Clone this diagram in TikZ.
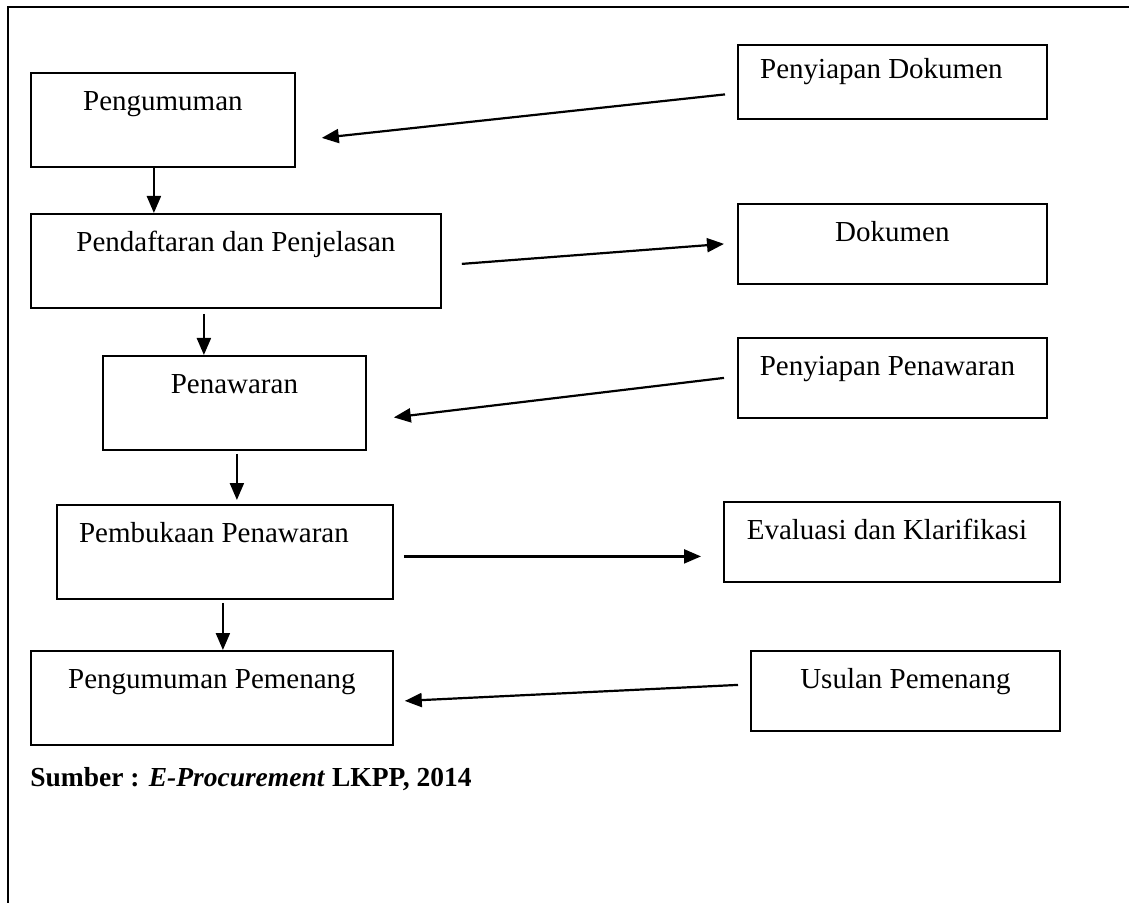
\documentclass[tikz,border=0pt]{standalone}
\usepackage{fontspec}
\setmainfont{Liberation Serif}
\usetikzlibrary{arrows.meta}
\begin{document}
\begin{tikzpicture}[
    x=0.5pt,
    y=-0.5pt,
    every node/.style={font=\fontsize{14.5}{17}\selectfont},
    lbox/.style={draw, line width=0.9pt, anchor=north west, inner sep=0pt, text height=19pt, text depth=28pt},
    rbox/.style={lbox, text depth=21pt},
    arr/.style={-{Triangle[length=8.5pt,width=7pt]}, line width=1.1pt}
]
    \useasboundingbox (0,0) rectangle (1129,903);
    \draw[line width=0.9pt] (8,903) -- (8,7) -- (1129,7);

    % main steps
    \node[lbox, minimum width=132pt] (peng) at (30,72) {Pengumuman};
    \node[lbox, minimum width=205pt] (pend) at (30,213) {Pendaftaran dan Penjelasan};
    \node[lbox, minimum width=131.5pt] (pen) at (102,355) {Penawaran};
    \node[lbox, minimum width=168pt] (pemb) at (56,504) {Pembukaan Penawaran\hspace*{11pt}};
    \node[lbox, minimum width=181pt] (pmen) at (30,650) {Pengumuman Pemenang};

    % side steps
    \node[rbox, minimum width=154.5pt, text height=17pt, text depth=20pt] (pdok) at (737,44) {Penyiapan Dokumen\hspace*{11pt}};
    \node[rbox, minimum width=154.5pt] (dok) at (737,203) {Dokumen};
    \node[rbox, minimum width=154.5pt] (ppen) at (737,337) {Penyiapan Penawaran\hspace*{5pt}};
    \node[rbox, minimum width=168pt] (eval) at (723,501) {Evaluasi dan Klarifikasi\hspace*{5pt}};
    \node[rbox, minimum width=154.5pt] (usul) at (750,650) {Usulan Pemenang};

    \draw[arr] ([xshift=-4.5pt]peng.south) -- ([xshift=-41pt]pend.north);
    \draw[arr, shorten <=2.5pt] ([xshift=-16pt]pend.south) -- ([xshift=-15.25pt]pen.north);
    \draw[arr, shorten <=1.5pt, shorten >=2pt] ([xshift=1.25pt]pen.south) -- ([xshift=6pt]pemb.north);
    \draw[arr, shorten <=1.5pt] ([xshift=-1pt]pemb.south) -- ([xshift=5.5pt]pmen.north);

    \draw[arr] ([xshift=-6pt,yshift=-6.25pt]pdok.west) -- ([xshift=13pt,yshift=-9pt]peng.east);
    \draw[arr] ([xshift=10pt,yshift=-1.5pt]pend.east) -- ([xshift=-6.5pt]dok.west);
    \draw[arr] ([xshift=-6.5pt]ppen.west) -- ([xshift=13.5pt,yshift=-7.25pt]pen.east);
    \draw[arr] ([xshift=5pt,yshift=-2.25pt]pemb.east) -- ([xshift=-11pt,yshift=-2.25pt]eval.west |- pemb.east);
    \draw[arr] ([xshift=-6pt,yshift=3pt]usul.west) -- ([xshift=5.5pt,yshift=-1.5pt]pmen.east);

    \node[anchor=base west, inner sep=0pt, font=\fontsize{13.75}{17}\selectfont\bfseries] (src) at (30,786)
        {Sumber : \textit{E-Procurement} LKPP, 2014};

\end{tikzpicture}
\end{document}
